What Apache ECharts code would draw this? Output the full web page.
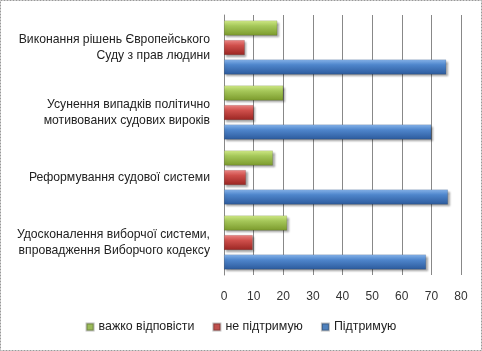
<!DOCTYPE html>
<html><head><meta charset="utf-8">
<script src="https://cdn.jsdelivr.net/npm/echarts@6/dist/echarts.min.js"></script>
<style>html,body{margin:0;padding:0;background:#fff}#c{width:482px;height:351px}</style>
</head><body><div id="c"></div>
<script>
var categories = ['Виконання рішень Європейського\nСуду з прав людини','Усунення випадків політично\nмотивованих судових вироків','Реформування судової системи','Удосконалення виборчої системи,\nвпровадження Виборчого кодексу'];
var seriesNames = ['важко відповісти','не підтримую','Підтримую'];
var hard = [18, 20, 16.5, 21.3];
var notSupport = [7, 10, 7.4, 9.7];
var support = [75, 70, 75.6, 68.2];
var xTicks = [0,10,20,30,40,50,60,70,80];

function grad(top, mid, bot){
  return new echarts.graphic.LinearGradient(0,0,0,1,[{offset:0,color:top},{offset:0.35,color:mid},{offset:1,color:bot}]);
}
var colors = [grad('#d6ef8a','#a6c85a','#7b9a2c'), grad('#f08a88','#d0504c','#9a2522'), grad('#8ab8f0','#4f86cc','#2c5a9c')];
var legendColors = ['#9bbb59','#c0504d','#4f81bd'];
var data = [hard, notSupport, support];
var chart = echarts.init(document.getElementById('c'));
chart.setOption({
  animation:false,
  textStyle:{fontFamily:'Liberation Sans'},
  graphic:[{type:'rect',shape:{x:0.5,y:0.5,width:481,height:350},style:{fill:'none',stroke:'#999',lineWidth:1,lineDash:[2,1]}}],
  grid:{left:224,right:21,top:15,bottom:76},
  legend:{bottom:13,left:'center',itemWidth:7,itemHeight:7,itemGap:18,icon:'rect',
    textStyle:{fontSize:12.4,color:'#222',fontFamily:'Liberation Sans'},
    data:seriesNames.map(function(n,i){return {name:n,itemStyle:{color:legendColors[i]}};})},
  xAxis:{type:'value',min:0,max:80,interval:10,
    axisLabel:{margin:16,fontSize:12,color:'#333'},
    axisLine:{show:false},axisTick:{show:false},
    splitLine:{lineStyle:{color:'#888'}}},
  yAxis:{type:'category',data:categories,inverse:true,
    axisLine:{show:true,lineStyle:{color:'#888'}},axisTick:{show:false},
    axisLabel:{margin:14,fontSize:12.2,color:'#222',lineHeight:16,align:'right'}},
  series:data.map(function(d,i){return {
    name:seriesNames[i],type:'bar',data:d,barWidth:15,barGap:'30%',
    itemStyle:{color:colors[i],borderColor:'rgba(0,0,0,0.25)',borderWidth:0.5,shadowColor:'rgba(0,0,0,0.35)',shadowOffsetX:2,shadowOffsetY:2,shadowBlur:2}
  };})
});
</script></body></html>
